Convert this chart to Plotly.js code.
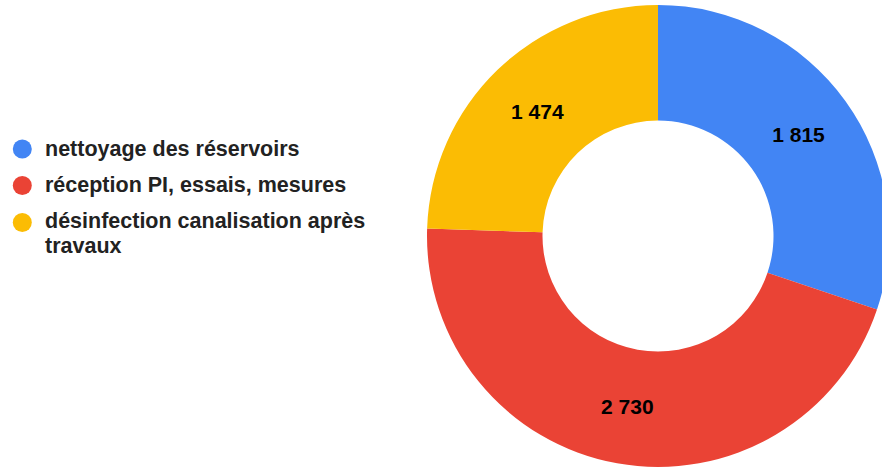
<!DOCTYPE html>
<html>
<head>
<meta charset="utf-8">
<script src="https://cdn.plot.ly/plotly-3.0.1.min.js"></script>
<style>
html,body{margin:0;padding:0;overflow:hidden;background:#fff;}
#chart{width:900px;height:476px;}
</style>
</head>
<body>
<div id="chart"></div>
<script>
const categories = ["nettoyage des réservoirs", "réception PI, essais, mesures", "désinfection canalisation après travaux"];
const legendLines = [["nettoyage des réservoirs"], ["réception PI, essais, mesures"], ["désinfection canalisation après", "travaux"]];
const values = [1815, 2730, 1474];
const colors = ["#4285F4", "#EA4335", "#FBBC04"];

const W = 900, H = 476;
const FAMILY = "'Liberation Sans', Arial, sans-serif";
const legendFont = {family: FAMILY, size: 21.5, color: "#222222", weight: 700};

const traces = [{
  type: "pie",
  labels: categories,
  values: values,
  marker: {colors: colors, line: {width: 0}},
  hole: 0.5,
  sort: false,
  direction: "clockwise",
  rotation: 0,
  textinfo: "value",
  texttemplate: "%{value:,}",
  textposition: "inside",
  insidetextorientation: "horizontal",
  insidetextfont: {family: FAMILY, size: 21, color: "#000000", weight: 700},
  showlegend: false,
  hoverinfo: "label+value+percent",
  domain: {x: [427 / W, 889 / W], y: [9 / H, 471 / H]}
}];

// legend drawn as circles + text (rows in pixel positions)
const rowY = [149, 185.5, 222.5];
const textY = [149, 185.5, 220.5];
const lineGap = 25;
const shapes = [];
const annotations = [];
legendLines.forEach((lines, i) => {
  const cy = rowY[i];
  shapes.push({
    type: "circle", xref: "paper", yref: "paper",
    x0: (22.3 - 9.5) / W, x1: (22.3 + 9.5) / W,
    y0: 1 - (cy + 9.5) / H, y1: 1 - (cy - 9.5) / H,
    fillcolor: colors[i], line: {width: 0}
  });
  lines.forEach((t, j) => {
    annotations.push({
      xref: "paper", yref: "paper",
      x: 44 / W, y: 1 - (textY[i] + j * lineGap) / H,
      xanchor: "left", yanchor: "middle",
      borderpad: 0,
      text: t, showarrow: false,
      font: legendFont
    });
  });
});

const layout = {
  width: W, height: H,
  margin: {l: 0, r: 0, t: 0, b: 0},
  paper_bgcolor: "#ffffff",
  plot_bgcolor: "#ffffff",
  separators: ", ",
  showlegend: false,
  shapes: shapes,
  annotations: annotations
};

Plotly.newPlot("chart", traces, layout, {displayModeBar: false, staticPlot: true});
</script>
</body>
</html>
